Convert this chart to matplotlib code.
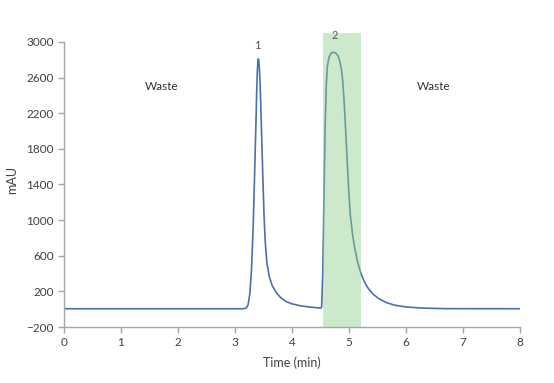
import matplotlib
matplotlib.use("Agg")
import matplotlib.pyplot as plt

# chromatogram (time in min, absorbance in mAU)
time_min = [0.00, 3.15, 3.20, 3.23, 3.26, 3.29, 3.32, 3.35, 3.37, 3.38,
            3.39, 3.40, 3.41, 3.42, 3.43, 3.44, 3.45, 3.47, 3.49, 3.51,
            3.53, 3.56, 3.60, 3.65, 3.72, 3.80, 3.90, 4.00, 4.15, 4.30,
            4.45, 4.51,
            4.52, 4.54, 4.56, 4.58, 4.60, 4.62, 4.65, 4.69, 4.73, 4.77,
            4.81, 4.84, 4.87, 4.89, 4.91, 4.93, 4.95, 4.97, 4.99, 5.02,
            5.06, 5.10, 5.15, 5.20, 5.26, 5.33, 5.42, 5.52, 5.65, 5.80,
            6.00, 6.30, 6.70, 8.00]
mau = [5, 5, 15, 50, 170, 450, 950, 1650, 2150, 2420,
       2640, 2770, 2810, 2780, 2680, 2530, 2350, 1900, 1450, 1050,
       760, 520, 370, 270, 190, 130, 85, 60, 38, 25,
       15, 12,
       30, 400, 1200, 2000, 2500, 2720, 2830, 2875, 2885, 2875,
       2840, 2780, 2680, 2560, 2380, 2150, 1900, 1650, 1400, 1080,
       850, 690, 530, 420, 320, 240, 170, 120, 75, 45,
       25, 12, 6, 5]

# collected fraction window
collect_start = 4.54
collect_end = 5.21

peak_labels = ["1", "2"]
peak_pos = [(3.40, 2900), (4.75, 3010)]
zone_labels = ["Waste", "Waste"]
zone_pos = [(1.72, 2500), (6.49, 2500)]

x_ticks = [0, 1, 2, 3, 4, 5, 6, 7, 8]
y_ticks = [-200, 200, 600, 1000, 1400, 1800, 2200, 2600, 3000]

plt.rcParams['font.family'] = ['Lato', 'DejaVu Sans']

fig = plt.figure(figsize=(5.54, 3.83), dpi=100)
ax = fig.add_axes([0.1155, 0.1462, 0.8231, 0.7676])

ax.plot(time_min, mau, color='#4a70ad', lw=1.2, zorder=2)
ax.axvspan(collect_start, collect_end, color='#8fcf8f', alpha=0.45, lw=0, zorder=3)

for lab, (x, y) in zip(peak_labels, peak_pos):
    ax.text(x, y, lab, ha='center', va='bottom', fontsize=8, color='#555555', zorder=4)
for lab, (x, y) in zip(zone_labels, zone_pos):
    ax.text(x, y, lab, ha='center', va='center', fontsize=8.5, color='#333333')

ax.set_xlim(0, 8)
ax.set_ylim(-200, 3100)
ax.set_xticks(x_ticks)
ax.set_yticks(y_ticks)

for s in ['top', 'right']:
    ax.spines[s].set_visible(False)
for s in ['left', 'bottom']:
    ax.spines[s].set_color('#a6a6a6')
    ax.spines[s].set_linewidth(1.0)
ax.spines['left'].set_bounds(-200, 3000)

ax.tick_params(axis='both', colors='#a6a6a6', labelcolor='#404040',
               labelsize=8.5, length=4, width=1.0, direction='out')

ax.set_xlabel('Time (min)', fontsize=9, color='#404040', labelpad=6)
ax.set_ylabel('mAU', fontsize=9, color='#404040', labelpad=6)

fig.savefig('out.png', dpi=100)
